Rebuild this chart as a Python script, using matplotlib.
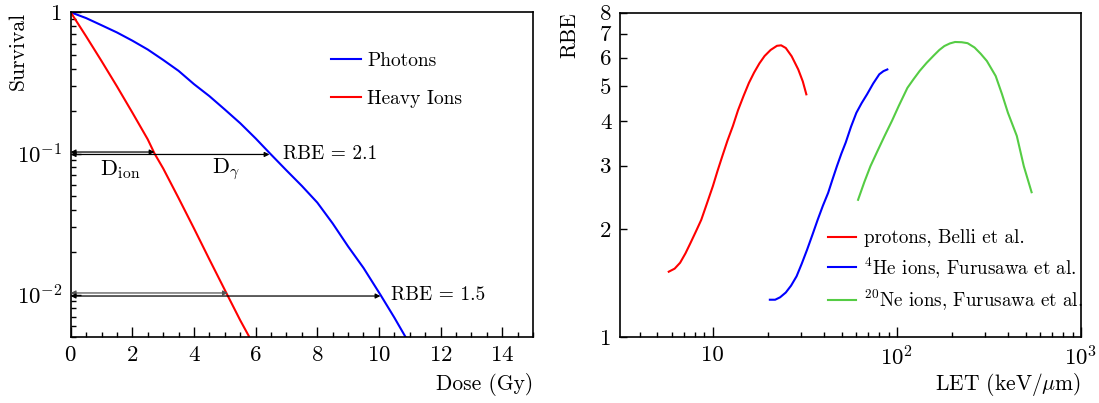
import numpy as np
import matplotlib
matplotlib.use("Agg")
import matplotlib.pyplot as plt
from matplotlib.ticker import FixedLocator, NullFormatter

plt.rcParams['font.family'] = ['cmr10', 'DejaVu Serif']
plt.rcParams['mathtext.fontset'] = 'cm'
plt.rcParams['axes.formatter.use_mathtext'] = True

# survival curves (left)
dose_ph = [0, 0.5, 1, 1.5, 2, 2.5, 3, 3.5, 4, 4.5, 5, 5.5, 6, 6.45, 7, 7.5, 8, 8.5, 9, 9.5, 10.05, 10.5, 10.87]
surv_ph = [1, 0.91, 0.81, 0.72, 0.63, 0.545, 0.46, 0.385, 0.31, 0.255, 0.205, 0.164, 0.128, 0.101,
           0.076, 0.059, 0.045, 0.032, 0.022, 0.0155, 0.01, 0.0069, 0.005]
dose_ion = [0, 0.5, 1, 1.5, 2, 2.5, 2.72, 3, 3.5, 4, 4.5, 5.1, 5.5, 5.78]
surv_ion = [1, 0.676, 0.452, 0.299, 0.195, 0.126, 0.1, 0.0785, 0.0484, 0.0295, 0.0178, 0.0098, 0.0066, 0.0051]

# RBE vs LET (right)
let_p = [5.76, 6.2, 6.64, 7.1, 7.57, 8.1, 8.65, 9.3, 10, 10.6, 11.26, 12.0, 12.85, 13.7, 14.68,
         15.7, 16.75, 17.9, 19.1, 20.6, 22.3, 23.5, 24.9, 26.8, 29.1, 30.8, 32.2]
rbe_p = [1.52, 1.55, 1.61, 1.71, 1.83, 1.97, 2.12, 2.36, 2.63, 2.9, 3.19, 3.52, 3.87, 4.28, 4.69,
         5.1, 5.45, 5.78, 6.06, 6.3, 6.47, 6.49, 6.38, 6.05, 5.56, 5.15, 4.74]
let_he = [20.4, 21.8, 23.2, 24.9, 26.6, 28.5, 30.4, 32.5, 34.8, 37.1, 39.6, 42.3, 44.7, 47.2,
          49.9, 52.7, 56.3, 60.2, 64.3, 68.8, 74.3, 80.2, 84.5, 88.7]
rbe_he = [1.27, 1.27, 1.29, 1.33, 1.39, 1.476, 1.6, 1.75, 1.93, 2.12, 2.32, 2.52, 2.75, 2.99,
          3.24, 3.48, 3.85, 4.21, 4.48, 4.74, 5.08, 5.39, 5.5, 5.56]
let_ne = [61.5, 66.5, 71.8, 78.5, 85.7, 94, 102.3, 114, 123, 133, 145, 159, 170, 181, 194, 207,
          225, 242, 264, 285, 308, 344, 372, 401, 448, 489, 539]
rbe_ne = [2.41, 2.7, 2.99, 3.3, 3.63, 4.0, 4.40, 4.94, 5.22, 5.51, 5.8, 6.09, 6.3, 6.46, 6.57, 6.63,
          6.62, 6.58, 6.4, 6.15, 5.87, 5.33, 4.75, 4.21, 3.63, 2.99, 2.53]

W, H = 1099, 403
fig = plt.figure(figsize=(W / 100, H / 100), dpi=100)

def box(l, t, r, b):
    return [l / W, 1 - b / H, (r - l) / W, (b - t) / H]

tick_kw = dict(direction='in', top=False, right=False, labelsize=16.5, pad=6)

# ---- left panel
ax1 = fig.add_axes(box(70.7, 12.3, 533, 337.3))
ax1.plot(dose_ph, surv_ph, color='blue', lw=1.5)
ax1.plot(dose_ion, surv_ion, color='red', lw=1.5)
ax1.set_yscale('log')
ax1.set_xlim(0, 15)
ax1.set_ylim(0.005, 1)
ax1.set_xticks(np.arange(0, 15, 2))
ax1.xaxis.set_minor_locator(FixedLocator(np.arange(0, 15.01, 0.5)))
ax1.yaxis.set_major_locator(FixedLocator([0.01, 0.1, 1]))
ax1.set_yticklabels(['$10^{-2}$', '$10^{-1}$', '1'])
ax1.yaxis.set_minor_locator(FixedLocator([m * 10.0 ** e for e in (-3, -2, -1) for m in range(2, 10)]))
ax1.yaxis.set_minor_formatter(NullFormatter())
ax1.tick_params(which='major', length=7, width=1, **tick_kw)
ax1.tick_params(which='minor', length=3.5, width=1, direction='in', top=False, right=False)

arr = dict(arrowstyle='<|-|>', color='black', lw=0.9, mutation_scale=7, shrinkA=0, shrinkB=0)
ax1.annotate('', xy=(2.72, 0.1025), xytext=(0, 0.1025), arrowprops=arr)
ax1.annotate('', xy=(6.45, 0.0985), xytext=(0, 0.0985), arrowprops=arr)
ax1.annotate('', xy=(5.1, 0.0103), xytext=(0, 0.0103), arrowprops=dict(arr, color='#555555'))
ax1.annotate('', xy=(10.05, 0.0098), xytext=(0, 0.0098), arrowprops=arr)
ax1.text(0.95, 0.077, r'$\mathrm{D_{ion}}$', fontsize=16, va='center')
ax1.text(4.6, 0.077, r'$\mathrm{D}_{\gamma}$', fontsize=16, va='center')
ax1.text(6.9, 0.1, 'RBE = 2.1', fontsize=14, va='center')
ax1.text(10.4, 0.01, 'RBE = 1.5', fontsize=14, va='center')

ax1.legend(['Photons', 'Heavy Ions'], loc='upper left', bbox_to_anchor=(0.563, 0.878),
           frameon=False, fontsize=14, handlelength=1.55, handletextpad=0.31,
           labelspacing=1.05, borderpad=0, borderaxespad=0)

fig.text(18 / W, 1 - 12 / H, 'Survival', rotation=90, ha='center', va='top', fontsize=15.5)
fig.text(533 / W, 1 - 385 / H, 'Dose (Gy)', ha='right', va='center', fontsize=15.5)

# ---- right panel
ax2 = fig.add_axes(box(620, 12.7, 1081, 337))
ax2.plot(let_p, rbe_p, color='red', lw=1.5, label='protons, Belli et al.')
ax2.plot(let_he, rbe_he, color='blue', lw=1.5, label='$^{4}$He ions, Furusawa et al.')
ax2.plot(let_ne, rbe_ne, color='#55cc44', lw=1.5, label='$^{20}$Ne ions, Furusawa et al.')
ax2.set_xscale('log')
ax2.set_yscale('log')
ax2.set_xlim(3.13, 1000)
ax2.set_ylim(1, 8)
ax2.xaxis.set_major_locator(FixedLocator([10, 100, 1000]))
ax2.set_xticklabels(['10', '$10^2$', '$10^3$'])
ax2.xaxis.set_minor_locator(FixedLocator([m * 10.0 ** e for e in (0, 1, 2) for m in range(2, 10)]))
ax2.xaxis.set_minor_formatter(NullFormatter())
ax2.yaxis.set_major_locator(FixedLocator([1, 2, 3, 4, 5, 6, 7, 8]))
ax2.set_yticklabels(['1', '2', '3', '4', '5', '6', '7', '8'])
ax2.yaxis.set_minor_locator(FixedLocator([]))
ax2.tick_params(axis='x', which='major', length=7, width=1, **tick_kw)
ax2.tick_params(axis='y', which='major', length=5, width=1, **tick_kw)
ax2.tick_params(which='minor', length=3.5, width=1, direction='in', top=False, right=False)

ax2.legend(loc='upper left', bbox_to_anchor=(0.451, 0.3315), frameon=False, fontsize=13.7,
           handlelength=1.47, handletextpad=0.42, labelspacing=0.4, borderpad=0, borderaxespad=0)

fig.text(570 / W, 1 - 12 / H, 'RBE', rotation=90, ha='center', va='top', fontsize=15.5)
fig.text(1081 / W, 1 - 385 / H, r'LET (keV/$\mu$m)', ha='right', va='center', fontsize=15.5)

for ax in (ax1, ax2):
    for s in ax.spines.values():
        s.set_linewidth(1.2)

fig.savefig('out.png', dpi=100)
